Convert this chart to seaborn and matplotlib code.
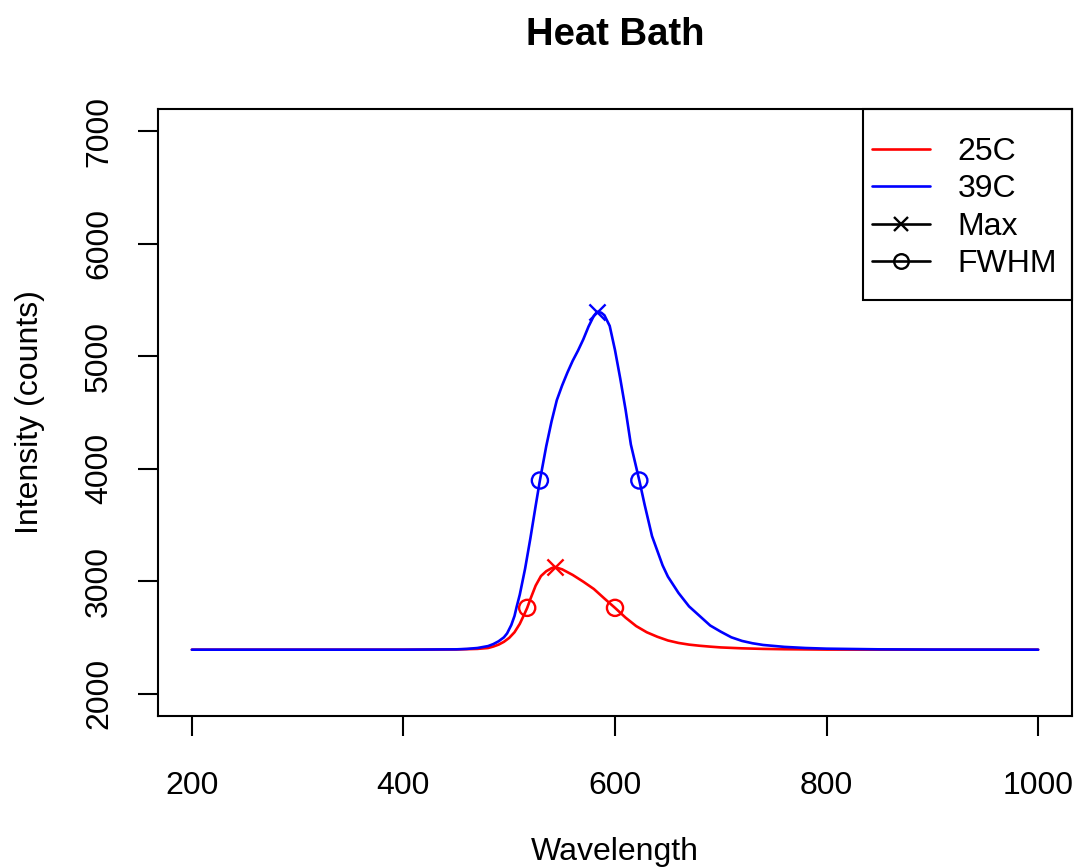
import matplotlib
matplotlib.use("Agg")
import matplotlib.pyplot as plt
import numpy as np
import pandas as pd
import seaborn as sns
from matplotlib.lines import Line2D
from matplotlib.patches import Rectangle

# Emission spectra (wavelength in nm, intensity in counts)
wl_25c = [200, 300, 400, 450, 470, 480, 485, 490, 495, 500, 505, 510, 515, 517,
          520, 525, 530, 535, 540, 543, 550, 560, 570, 580, 590, 600, 610, 620,
          630, 640, 650, 660, 670, 680, 690, 700, 720, 740, 760, 800, 900, 1000]
int_25c = [2390, 2390, 2390, 2392, 2397, 2405, 2418, 2435, 2460, 2495, 2545, 2620,
           2720, 2762, 2840, 2960, 3045, 3088, 3115, 3125, 3105, 3055, 2995, 2930,
           2845, 2762, 2675, 2600, 2545, 2505, 2472, 2450, 2435, 2425, 2417, 2410,
           2402, 2397, 2394, 2391, 2390, 2390]

wl_39c = [200, 300, 400, 450, 460, 470, 480, 485, 490, 495, 498, 502, 505, 507,
          510, 515, 520, 525, 529, 535, 540, 545, 550, 555, 560, 565, 570, 575,
          580, 583, 587, 590, 595, 600, 605, 610, 615, 620, 623, 628, 635, 645,
          650, 660, 670, 680, 690, 700, 710, 720, 730, 740, 760, 780, 800, 850,
          900, 1000]
int_39c = [2390, 2390, 2390, 2393, 2397, 2405, 2422, 2440, 2465, 2500, 2535, 2610,
           2690, 2770, 2880, 3110, 3380, 3670, 3895, 4200, 4420, 4610, 4740, 4855,
           4960, 5050, 5150, 5265, 5360, 5395, 5388, 5365, 5270, 5055, 4800, 4525,
           4215, 4015, 3895, 3680, 3400, 3140, 3040, 2895, 2775, 2690, 2605, 2550,
           2500, 2468, 2447, 2432, 2415, 2405, 2399, 2393, 2391, 2390]

# Peak maxima and half-maximum crossings
max_wl_25c, max_int_25c = [543], [3125]
max_wl_39c, max_int_39c = [583], [5395]
fwhm_wl_25c, fwhm_int_25c = [517, 600], [2762, 2762]
fwhm_wl_39c, fwhm_int_39c = [529, 623], [3895, 3895]

series_names = ["25C", "39C"]
series_colors = {"25C": "#FF0000", "39C": "#0000FF"}
x_ticks = [200, 400, 600, 800, 1000]
y_ticks = [2000, 3000, 4000, 5000, 6000, 7000]

spectra = pd.concat([
    pd.DataFrame({"Wavelength": wl_25c, "Intensity": int_25c, "Series": "25C"}),
    pd.DataFrame({"Wavelength": wl_39c, "Intensity": int_39c, "Series": "39C"}),
], ignore_index=True)

sns.set_style("white")
plt.rcParams["font.family"] = ["Liberation Sans", "DejaVu Sans"]
plt.rcParams["text.color"] = "black"
plt.rcParams["axes.labelcolor"] = "black"

W, H = 1076, 867
fig = plt.figure(figsize=(W / 100, H / 100), dpi=100)
ax = fig.add_axes([158 / W, 1 - 716 / H, 914 / W, 607 / H])

line_w = 1.9
sns.lineplot(data=spectra, x="Wavelength", y="Intensity", hue="Series",
             palette=series_colors, estimator=None, sort=False,
             linewidth=line_w, legend=False, ax=ax)

marker_s = 135
for name, mwl, mint, fwl, fint in [
    ("25C", max_wl_25c, max_int_25c, fwhm_wl_25c, fwhm_int_25c),
    ("39C", max_wl_39c, max_int_39c, fwhm_wl_39c, fwhm_int_39c),
]:
    c = series_colors[name]
    sns.scatterplot(x=mwl, y=mint, marker="x", s=marker_s, color=c,
                    linewidth=1.7, ax=ax, zorder=4)
    sns.scatterplot(x=fwl, y=fint, marker="o", s=marker_s, color=c,
                    facecolor="none", edgecolor=c, linewidth=1.7, ax=ax, zorder=4)

ax.set_xlim(168, 1032)
ax.set_ylim(1800, 7200)
ax.set_xticks(x_ticks)
ax.set_yticks(y_ticks)
ax.set_xticklabels([str(v) for v in x_ticks])
ax.set_yticklabels([str(v) for v in y_ticks], rotation=90, va="center")

for sp in ax.spines.values():
    sp.set_visible(True)
    sp.set_color("black")
    sp.set_linewidth(1.5)

ax.tick_params(axis="both", which="major", direction="out", length=14.5,
               width=1.5, color="black", labelsize=23, labelcolor="black",
               bottom=True, left=True, top=False, right=False)
ax.tick_params(axis="x", pad=25)
ax.tick_params(axis="y", pad=17)

ax.set_xlabel("Wavelength", fontsize=23, color="black")
ax.set_ylabel("Intensity (counts)", fontsize=23, color="black")
ax.xaxis.set_label_coords(0.5, -0.199)
ax.yaxis.set_label_coords(-0.124, 0.5)
ax.set_title("Heat Bath", fontsize=27.5, fontweight="bold", pad=46,
             color="black")

handles = [
    Line2D([], [], color=series_colors["25C"], lw=line_w),
    Line2D([], [], color=series_colors["39C"], lw=line_w),
    Line2D([], [], color="black", lw=line_w, marker="x", markersize=10.5,
           markeredgewidth=1.7),
    Line2D([], [], color="black", lw=line_w, marker="o", markersize=10.5,
           markerfacecolor="none", markeredgewidth=1.7),
]
labels = series_names + ["Max", "FWHM"]
leg = ax.legend(handles, labels, loc="upper right",
                bbox_to_anchor=(1 + 13 / 914, 1), borderaxespad=0,
                frameon=False, fontsize=23, handlelength=1.82,
                handletextpad=0.85, labelspacing=0.23, borderpad=0.88)
for t in leg.get_texts():
    t.set_color("black")
ax.add_patch(Rectangle(((863 - 158) / 914, (716 - 300) / 607),
                       (1072 - 863) / 914, (300 - 109) / 607,
                       transform=ax.transAxes, fill=False, edgecolor="black",
                       linewidth=1.5, zorder=5, clip_on=False))

fig.savefig("out.png", dpi=100, facecolor="white")
